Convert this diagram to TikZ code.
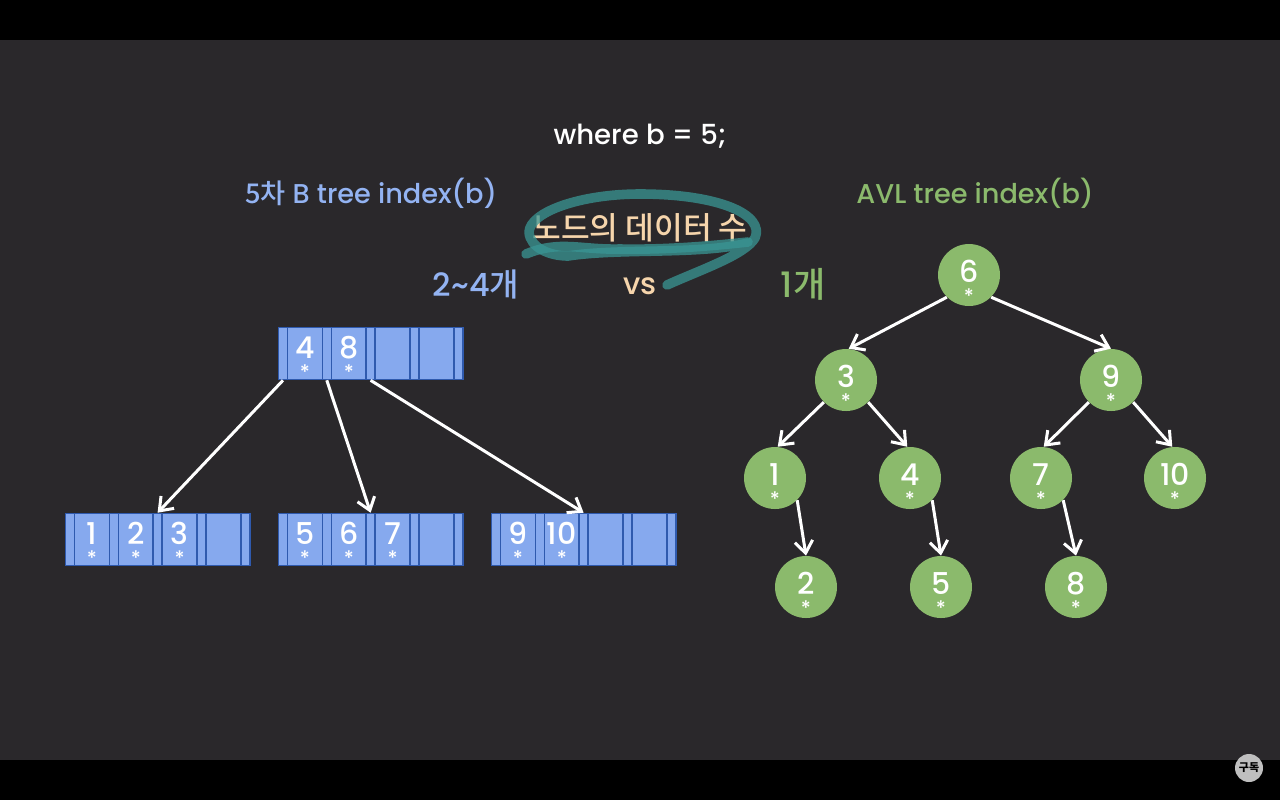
\documentclass[tikz,border=0pt]{standalone}
\usepackage{fontspec}
\setmainfont{Poppins}[UprightFont=* Medium]
\newfontfamily\kofont{Noto Sans CJK KR}[UprightFont=* Medium]
\usetikzlibrary{arrows.meta}
\definecolor{panelbg}{HTML}{2A282B}
\definecolor{btblue}{HTML}{86A9EE}
\definecolor{btlabel}{HTML}{93B3F2}
\definecolor{btedge}{HTML}{2F5AAE}
\definecolor{avlgreen}{HTML}{8BBA6C}
\definecolor{peach}{HTML}{F6D5AC}
\definecolor{scribble}{HTML}{3A9694}
\newcommand{\kvdrop}{0pt}
\tikzset{
  ptrcell/.style={draw=btedge, fill=btblue, line width=0.8pt, inner sep=0pt, minimum width=4.5pt, minimum height=26pt},
  keycell/.style={ptrcell, minimum width=17.5pt, text=white, align=center, execute at begin node={\renewcommand{\kvdrop}{0.5pt}}},
  avlnode/.style={circle, fill=avlgreen, inner sep=0pt, minimum size=31pt, text=white, align=center, execute at begin node={\renewcommand{\kvdrop}{1.8pt}}},
  link/.style={white, line width=1.5pt, -{Straight Barb[length=6pt,width=9pt,line width=1.5pt]}},
  pen/.style={scribble, line width=4.8pt, line cap=round, line join=round, opacity=0.75}
}
% one digit with its pointer star below
\newcommand{\kv}[1]{\fontsize{15}{11}\selectfont\raisebox{\dimexpr-4pt-\kvdrop\relax}[8pt][0pt]{#1}\\{\fontsize{10}{8}\selectfont\raisebox{\dimexpr-2.5pt-\kvdrop\relax}[7pt][0pt]{*}}}
% name, left edge, centre y, four keys
\newcommand{\bnode}[7]{%
  \foreach \i/\k in {0/{#4},1/{#5},2/{#6},3/{#7}} {
    \node[ptrcell] (#1p\i) at ({#2+4+43.8*\i},#3) {};
    \node[keycell] (#1k\i) at ({#2+26+43.8*\i},#3) {\k};
  }
  \node[ptrcell] (#1p4) at ({#2+4+175.2},#3) {};
}
\begin{document}
\begin{tikzpicture}[x=0.5pt, y=-0.5pt]
    \useasboundingbox (0,0) rectangle (1280,800);
    \fill[black] (0,0) rectangle (1280,800);
    \fill[panelbg] (0,40) rectangle (1280,760);

    % headings
    \node[white, font=\fontsize{13.8}{16}\selectfont] (query) at (640,136) {where b = 5;};
    \node[btlabel, font=\fontsize{13.6}{16}\selectfont] (btitle) at (371,193) {{\kofont 5차} B tree index(b)};
    \node[avlgreen, font=\fontsize{13.6}{16}\selectfont] (avltitle) at (975,193) {AVL tree index(b)};
    \node[peach, font=\kofont\fontsize{15.6}{18}\selectfont] (datacount) at (640,228) {노드의 데이터 수};
    \node[btlabel, font=\fontsize{16}{18}\selectfont] (bcount) at (476,284) {2\textasciitilde 4{\kofont 개}};
    \node[peach, font=\fontsize{15}{18}\selectfont] (versus) at (640,286) {vs};
    \node[avlgreen, font=\fontsize{17.5}{18}\selectfont] (avlcount) at (803,284) {1{\kofont 개}};

    % pen marks round the middle label
    \draw[pen] (667,285) .. controls (700,270) and (745,255) .. (755,238)
        .. controls (765,215) and (720,194) .. (640,194)
        .. controls (580,194) and (530,212) .. (529,232)
        .. controls (530,248) and (550,256) .. (568,256)
        .. controls (620,248) and (700,255) .. (748,243);
    \draw[pen] (526,254) .. controls (560,240) and (580,250) .. (620,249)
        .. controls (670,250) and (720,245) .. (748,242);

    % B tree
    \bnode{r}{279}{353.5}{\kv{4}}{\kv{8}}{}{}
    \bnode{a}{66}{539.5}{\kv{1}}{\kv{2}}{\kv{3}}{}
    \bnode{b}{279}{539.5}{\kv{5}}{\kv{6}}{\kv{7}}{}
    \bnode{c}{492}{539.5}{\kv{9}}{\kv{10}}{}{}
    \draw[link] (rp0.south) -- (ap2.north);
    \draw[link] (rp1.south) -- (bp2.north);
    \draw[link] (rp2.south) -- (cp2.north);

    % AVL tree
    \node[avlnode] (n6) at (969,275) {\kv{6}};
    \node[avlnode] (n3) at (846,380) {\kv{3}};
    \node[avlnode] (n9) at (1111,380) {\kv{9}};
    \node[avlnode] (n1) at (775,478) {\kv{1}};
    \node[avlnode] (n4) at (910,478) {\kv{4}};
    \node[avlnode] (n7) at (1041,478) {\kv{7}};
    \node[avlnode] (n10) at (1175,478) {\kv{10}};
    \node[avlnode] (n2) at (806,587) {\kv{2}};
    \node[avlnode] (n5) at (941,587) {\kv{5}};
    \node[avlnode] (n8) at (1076,587) {\kv{8}};
    \draw[link] (n6.225) -- (n3.85);
    \draw[link] (n6.-45) -- (n9.north);
    \draw[link] (n3.225) -- (n1.85);
    \draw[link] (n3.-45) -- (n4.95);
    \draw[link] (n9.225) -- (n7.85);
    \draw[link] (n9.-45) -- (n10.95);
    \draw[link] (n1.-45) -- (n2.north);
    \draw[link] (n4.-45) -- (n5.north);
    \draw[link] (n7.-45) -- (n8.north);

    % subscribe badge
    \node[circle, fill=black!25, inner sep=0pt, minimum size=14pt, font=\kofont\bfseries\fontsize{5.5}{6}\selectfont] (badge) at (1249,768) {구독};
\end{tikzpicture}
\end{document}
